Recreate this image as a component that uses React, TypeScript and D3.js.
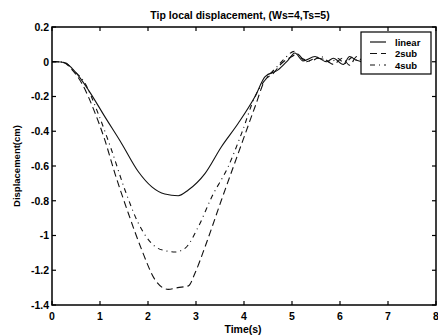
import React from "react";
import * as d3 from "d3";

const xTicks = [0, 1, 2, 3, 4, 5, 6, 7, 8];
const yTicks = [0.2, 0, -0.2, -0.4, -0.6, -0.8, -1, -1.2, -1.4];
const yTickLabels = ["0.2", "0", "-0.2", "-0.4", "-0.6", "-0.8", "-1", "-1.2", "-1.4"];
const seriesNames = ["linear", "2sub", "4sub"];

const linearT = [0, 0.1, 0.27, 0.48, 0.76, 1.1, 1.45, 1.8, 2.08, 2.35, 2.63, 2.84, 3.19, 3.53, 3.88, 4.23, 4.44, 4.71, 4.92, 5.06, 5.23, 5.48, 5.72, 5.86, 6.07, 6.2, 6.33, 6.5, 6.7, 7.0];
const linearV = [0, 0, -0.006, -0.057, -0.163, -0.316, -0.47, -0.633, -0.72, -0.761, -0.771, -0.738, -0.642, -0.489, -0.354, -0.2, -0.086, -0.047, 0.01, 0.05, 0.005, 0.03, 0.0, 0.02, -0.015, 0.03, 0.01, 0.0, 0.01, 0.0];

const sub2T = [0, 0.1, 0.25, 0.4, 0.62, 0.9, 1.1, 1.31, 1.59, 1.87, 2.15, 2.42, 2.62, 2.84, 2.98, 3.19, 3.53, 3.88, 4.23, 4.44, 4.6, 4.78, 5.0, 5.1, 5.3, 5.5, 5.7, 5.86, 6.05, 6.2, 6.35, 6.5, 6.7, 7.0];
const sub2V = [0, 0, -0.005, -0.04, -0.124, -0.297, -0.45, -0.642, -0.872, -1.083, -1.256, -1.31, -1.3, -1.29, -1.216, -1.064, -0.796, -0.527, -0.259, -0.105, -0.07, -0.01, 0.03, 0.045, 0.0, 0.02, 0.01, -0.015, 0.02, -0.02, 0.03, 0.0, 0.015, 0.0];

const sub4T = [0, 0.1, 0.27, 0.45, 0.68, 0.96, 1.24, 1.52, 1.8, 2.15, 2.4, 2.56, 2.77, 3.05, 3.33, 3.67, 3.95, 4.23, 4.45, 4.65, 4.85, 5.05, 5.2, 5.4, 5.6, 5.8, 5.95, 6.1, 6.25, 6.4, 6.6, 7.0];
const sub4V = [0, 0, -0.006, -0.05, -0.12, -0.297, -0.508, -0.738, -0.93, -1.064, -1.09, -1.095, -1.074, -0.949, -0.777, -0.604, -0.412, -0.2, -0.1, -0.04, 0.02, 0.06, 0.02, 0.005, 0.03, -0.005, 0.02, -0.01, 0.025, 0.0, 0.01, 0.0];

const W = 438;
const H = 336;
const left = 52;
const right = 436;
const top = 27;
const bottom = 305;
const font = "'Liberation Sans', Arial, Helvetica, sans-serif";

export default function App() {
  const x = d3.scaleLinear().domain([0, 8]).range([left, right]);
  const y = d3.scaleLinear().domain([-1.4, 0.2]).range([bottom, top]);
  const line = d3
    .line<[number, number]>()
    .x((d) => x(d[0]))
    .y((d) => y(d[1]))
    .curve(d3.curveMonotoneX);

  const series = [
    { name: seriesNames[0], t: linearT, v: linearV, dash: "none" },
    { name: seriesNames[1], t: sub2T, v: sub2V, dash: "7,4" },
    { name: seriesNames[2], t: sub4T, v: sub4V, dash: "5,4,1,4" },
  ];

  const tickLen = 4;

  return (
    <svg
      width={W}
      height={H}
      style={{ position: "absolute", left: 0, top: 0, background: "#fff" }}
      fontFamily={font}
    >
      <rect x={0} y={0} width={W} height={H} fill="#fff" />
      <text x={240} y={19} textAnchor="middle" fontSize={10.5} fontWeight="bold">
        Tip local displacement, (Ws=4,Ts=5)
      </text>
      <defs>
        <clipPath id="plotclip">
          <rect x={left} y={top} width={right - left} height={bottom - top} />
        </clipPath>
      </defs>
      <g clipPath="url(#plotclip)">
        {series.map((s) => (
          <path
            key={s.name}
            d={line(s.t.map((t, i) => [t, s.v[i]] as [number, number])) || ""}
            fill="none"
            stroke="#111"
            strokeWidth={1.1}
            strokeDasharray={s.dash}
          />
        ))}
      </g>
      <rect x={left} y={top} width={right - left} height={bottom - top} fill="none" stroke="#000" strokeWidth={1.5} />
      {xTicks.map((t) => (
        <g key={"xt" + t}>
          <line x1={x(t)} x2={x(t)} y1={bottom} y2={bottom - tickLen} stroke="#000" strokeWidth={1.2} />
          <line x1={x(t)} x2={x(t)} y1={top} y2={top + tickLen} stroke="#000" strokeWidth={1.2} />
          <text x={x(t)} y={320} textAnchor="middle" fontSize={10.5} fontWeight="bold">
            {String(t)}
          </text>
        </g>
      ))}
      {yTicks.map((v, i) => (
        <g key={"yt" + i}>
          <line x1={left} x2={left + tickLen} y1={y(v)} y2={y(v)} stroke="#000" strokeWidth={1.2} />
          <line x1={right} x2={right - tickLen} y1={y(v)} y2={y(v)} stroke="#000" strokeWidth={1.2} />
          <text x={49} y={y(v) + 3.8} textAnchor="end" fontSize={10.5} fontWeight="bold">
            {yTickLabels[i]}
          </text>
        </g>
      ))}
      <text x={243} y={333} textAnchor="middle" fontSize={10.5} fontWeight="bold">
        Time(s)
      </text>
      <text
        transform={`translate(20,166) rotate(-90)`}
        textAnchor="middle"
        fontSize={9.5}
        fontWeight="bold"
      >
        Displacement(cm)
      </text>
      <rect x={361} y={32} width={70} height={42} fill="#fff" stroke="#000" strokeWidth={1.2} />
      {series.map((s, i) => (
        <g key={"lg" + s.name}>
          <line
            x1={370}
            x2={386}
            y1={42 + i * 11.5}
            y2={42 + i * 11.5}
            stroke="#111"
            strokeWidth={1.2}
            strokeDasharray={s.dash}
          />
          <text x={395} y={42 + i * 11.5 + 3.5} fontSize={9.5} fontWeight="bold">
            {s.name}
          </text>
        </g>
      ))}
    </svg>
  );
}
